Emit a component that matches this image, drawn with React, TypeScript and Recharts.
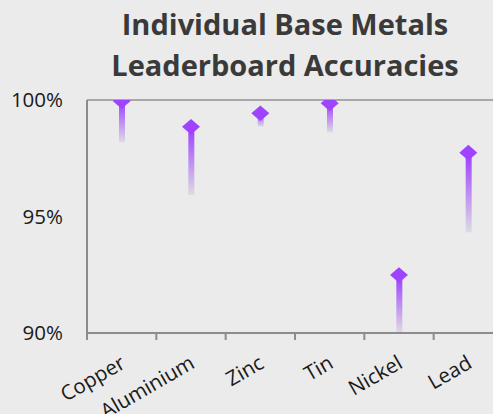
import { ComposedChart, Bar, Scatter, XAxis, YAxis, ReferenceLine } from 'recharts';

const categories = ['Copper', 'Aluminium', 'Zinc', 'Tin', 'Nickel', 'Lead'];
const accuracy = [0.9996, 0.9885, 0.9943, 0.9986, 0.9249, 0.9774];
const lowerBound = [0.9818, 0.9592, 0.9886, 0.9861, 0.9, 0.9432];
const yTicks = [0.9, 0.95, 1.0];
// integer ticks = category boundaries (tick marks), half ticks = category labels
const xTicks = [0, 0.5, 1, 1.5, 2, 2.5, 3, 3.5, 4, 4.5, 5, 5.5, 6];
const titleLines = ['Individual Base Metals', 'Leaderboard Accuracies'];

const data = categories.map((name, i) => ({
  name,
  slot: i + 0.5,
  acc: accuracy[i],
  range: [lowerBound[i], accuracy[i]],
}));

const PURPLE = '#a043ff';
const AXIS = '#8c8c8c';
const FONT_SIZE = 20.5;

const Diamond = (props: any) => {
  const { cx, cy } = props;
  if (cx == null || cy == null) return null;
  const w = 9;
  const h = 7.8;
  return (
    <polygon
      points={`${cx - w},${cy} ${cx},${cy - h} ${cx + w},${cy} ${cx},${cy + h}`}
      fill={PURPLE}
    />
  );
};

const XTick = (props: any) => {
  const { x, y, payload } = props;
  const v = payload.value as number;
  if (Number.isInteger(v)) {
    return <line x1={x} x2={x} y1={y} y2={y + 7} stroke={AXIS} strokeWidth={2} />;
  }
  const label = categories[Math.floor(v)];
  const px = x + 5;
  const py = y + 34;
  return (
    <text
      x={px}
      y={py}
      transform={`rotate(-30, ${px}, ${py})`}
      textAnchor="end"
      fontSize={FONT_SIZE}
      fill="#1a1a1a"
    >
      {label}
    </text>
  );
};

export default function App() {
  return (
    <div
      style={{
        position: 'fixed',
        left: 0,
        top: 0,
        width: 493,
        height: 414,
        overflow: 'hidden',
        background: '#ebebeb',
        fontFamily: '"Open Sans", sans-serif',
      }}
    >
      <svg width={493} height={90} style={{ position: 'absolute', left: 0, top: 0 }}>
        {titleLines.map((line, i) => (
          <text
            key={i}
            x={285}
            y={35 + i * 41}
            textAnchor="middle"
            fontSize={29}
            fontWeight="bold"
            fill="#3a3a3a"
          >
            {line}
          </text>
        ))}
      </svg>
      <div style={{ position: 'absolute', left: 0, top: 0 }}>
        <ComposedChart
          width={512}
          height={414}
          data={data}
          margin={{ top: 100, right: 9, bottom: 0, left: 0 }}
        >
          <defs>
            <linearGradient id="stemGrad" x1="0" y1="0" x2="0" y2="1">
              <stop offset="0%" stopColor="#9c3cff" />
              <stop offset="100%" stopColor="#dedbe4" />
            </linearGradient>
          </defs>
          <XAxis
            dataKey="slot"
            type="number"
            domain={[0, 6]}
            ticks={xTicks}
            allowDataOverflow
            interval={0}
            height={81}
            tickSize={0}
            tickMargin={0}
            tickLine={false}
            axisLine={{ stroke: AXIS, strokeWidth: 2 }}
            tick={<XTick />}
          />
          <YAxis
            domain={[0.9, 1.0]}
            ticks={yTicks}
            allowDataOverflow
            width={87}
            tickSize={0}
            tickMargin={24}
            tickLine={false}
            axisLine={{ stroke: AXIS, strokeWidth: 2 }}
            tick={{ fontSize: FONT_SIZE, fill: '#1a1a1a' }}
            tickFormatter={(v: number) => `${Math.round(v * 100)}%`}
          />
          <Bar dataKey="range" barSize={6} fill="url(#stemGrad)" isAnimationActive={false} />
          <Scatter dataKey="acc" shape={<Diamond />} isAnimationActive={false} />
          <ReferenceLine y={1.0} stroke="#a8a8a8" strokeWidth={2} />
        </ComposedChart>
      </div>
    </div>
  );
}
